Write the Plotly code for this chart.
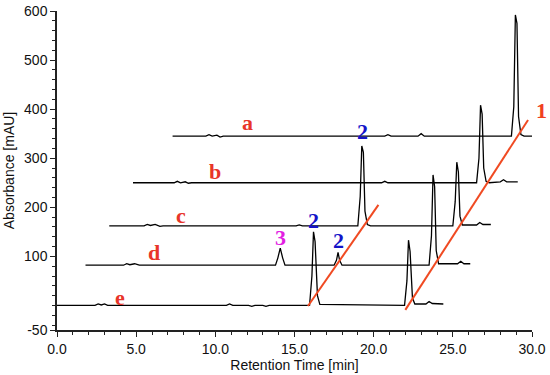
import plotly.graph_objects as go

# ---- data ----
trace_names = ["a", "b", "c", "d", "e"]
trace_offsets = [345, 250, 162, 82, 0]  # baseline of each chromatogram, mAU

a_x = [7.3, 9.4, 9.6, 9.8, 10.1, 10.3, 10.5, 20.7, 20.9, 21.1, 22.8, 23.0, 23.2, 28.7, 28.85, 28.95, 29.05, 29.15, 29.3, 29.5, 30.0]
a_y = [0, 0, 3, 0, 2, -2, 0, 0, 3, 0, 0, 5, 0, 0, 60, 247, 230, 40, 3, 0, 0]

b_x = [4.8, 7.4, 7.6, 7.8, 8.1, 8.3, 8.5, 20.5, 20.7, 20.9, 26.5, 26.65, 26.75, 26.85, 26.95, 27.1, 27.3, 28.0, 28.2, 28.4, 29.1]
b_y = [0, 0, 3, 0, 2, -1, 0, 0, 3, 0, 0, 50, 158, 140, 30, 3, 0, 2, 6, 2, 2]

c_x = [3.3, 5.5, 5.7, 5.9, 6.2, 6.5, 6.7, 15.1, 15.3, 15.5, 19.0, 19.15, 19.25, 19.35, 19.45, 19.6, 19.8, 25.0, 25.15, 25.25, 25.35, 25.45, 25.6, 26.5, 26.7, 26.9, 27.4]
c_y = [0, 0, 3, 1, 3, -1, 0, 0, 2, 0, 0, 60, 163, 150, 30, 3, 0, 0, 50, 130, 110, 20, 2, 2, 7, 3, 3]

d_x = [1.8, 4.2, 4.4, 4.6, 4.9, 5.2, 5.4, 13.8, 13.95, 14.1, 14.25, 14.4, 17.5, 17.65, 17.75, 17.85, 18.0, 23.5, 23.65, 23.75, 23.85, 23.95, 24.1, 25.3, 25.5, 25.7, 26.1]
d_y = [0, 0, 3, 1, 3, 0, 0, 0, 15, 35, 15, 0, 0, 10, 26, 10, 0, 0, 60, 184, 160, 30, 3, 3, 8, 3, 3]

e_x = [0.0, 2.4, 2.6, 2.8, 3.0, 3.2, 3.5, 10.7, 10.9, 11.1, 12.1, 12.3, 12.5, 13.0, 13.2, 13.4, 15.95, 16.1, 16.2, 16.3, 16.45, 16.6, 21.95, 22.1, 22.2, 22.3, 22.45, 22.6, 23.3, 23.5, 23.7, 24.4]
e_y = [0, 0, 3, 1, 3, 0, 0, 0, 3, 0, 0, -2, 0, 0, -2, 0, 0, 60, 150, 130, 20, 2, 0, 50, 133, 110, 15, 3, 3, 8, 4, 3]

trace_x = [a_x, b_x, c_x, d_x, e_x]
trace_y = [a_y, b_y, c_y, d_y, e_y]

# red guide lines through peak 1 and peak 2
guide1_x = [22.0, 29.75]
guide1_y = [-9, 378]
guide2_x = [15.85, 20.3]
guide2_y = [-1, 205]

# trace letter labels
letter_x = [12.0, 10.0, 7.8, 6.1, 4.0]
letter_y = [373, 272, 183, 107, 17]

# peak labels
peak_text = ["2", "2", "2", "3", "1"]
peak_x = [19.3, 16.2, 17.75, 14.1, 30.6]
peak_y = [355, 174, 133, 138, 398]
peak_colors = ["#1414c8", "#1414c8", "#1414c8", "#e21ee2", "#f0401e"]

x_range = [0, 30]
y_range = [-50, 600]
y_tickvals = [-50, 100, 200, 300, 400, 500, 600]
y_ticktext = ["-50", "100", "200", "300", "400", "500", "600"]
x_tickvals = [0, 5, 10, 15, 20, 25, 30]
x_ticktext = ["0.0", "5.0", "10.0", "15.0", "20.0", "25.0", "30.0"]

# ---- figure ----
fig = go.Figure()
for name, off, xs, ys in zip(trace_names, trace_offsets, trace_x, trace_y):
    fig.add_trace(go.Scatter(x=xs, y=[v + off for v in ys], mode="lines",
                             line=dict(color="black", width=1.3), name=name,
                             showlegend=False, hoverinfo="skip"))

for gx, gy in [(guide1_x, guide1_y), (guide2_x, guide2_y)]:
    fig.add_trace(go.Scatter(x=gx, y=gy, mode="lines",
                             line=dict(color="#f04a22", width=2),
                             showlegend=False, hoverinfo="skip"))

for t, x, y in zip(trace_names, letter_x, letter_y):
    fig.add_annotation(x=x, y=y, text="<b>%s</b>" % t, showarrow=False,
                       xanchor="center", yanchor="middle",
                       font=dict(family="Liberation Serif", size=22, color="#e8352a"))

for t, x, y, c in zip(peak_text, peak_x, peak_y, peak_colors):
    if x_range[0] <= x <= x_range[1]:
        fig.add_annotation(x=x, y=y, text="<b>%s</b>" % t, showarrow=False,
                           xanchor="center", yanchor="middle",
                           font=dict(family="Liberation Serif", size=22, color=c))
    else:
        # label lies beyond the x range: place it relative to the plot area
        fig.add_annotation(x=(x - x_range[0]) / (x_range[1] - x_range[0]), xref="paper",
                           y=y, yref="y", text="<b>%s</b>" % t, showarrow=False,
                           xanchor="center", yanchor="middle",
                           font=dict(family="Liberation Serif", size=22, color=c))

axis_font = dict(family="Liberation Sans", size=14, color="#111")
title_font = dict(family="Liberation Sans", size=14, color="#111")
fig.update_layout(
    width=550, height=375,
    margin=dict(l=57, r=18, t=11, b=45, autoexpand=False),
    plot_bgcolor="white", paper_bgcolor="white",
    xaxis=dict(range=x_range, tickvals=x_tickvals, ticktext=x_ticktext,
               automargin=False,
               showgrid=False, zeroline=False, showline=True, linecolor="#222",
               linewidth=1.5, ticks="outside", ticklen=5, tickcolor="#222",
               tickfont=axis_font,
               minor=dict(dtick=1, tick0=0, ticks="outside", ticklen=3, tickcolor="#222"),
               title=dict(text="Retention Time [min]", font=title_font, standoff=0)),
    yaxis=dict(range=y_range, tickvals=y_tickvals, ticktext=y_ticktext,
               automargin=False,
               showgrid=False, zeroline=False, showline=True, linecolor="#222",
               linewidth=1.5, ticks="outside", ticklen=5, tickcolor="#222",
               tickfont=axis_font,
               minor=dict(dtick=20, tick0=0, ticks="outside", ticklen=3, tickcolor="#222"),
               title=dict(text="Absorbance [mAU]", font=title_font, standoff=6)),
)

# remove the default 8 px body margin of the page so the figure sits at the top-left corner
fig.write_html("out.html", config={"displayModeBar": False},
               post_script="document.body.style.margin='0px';")
